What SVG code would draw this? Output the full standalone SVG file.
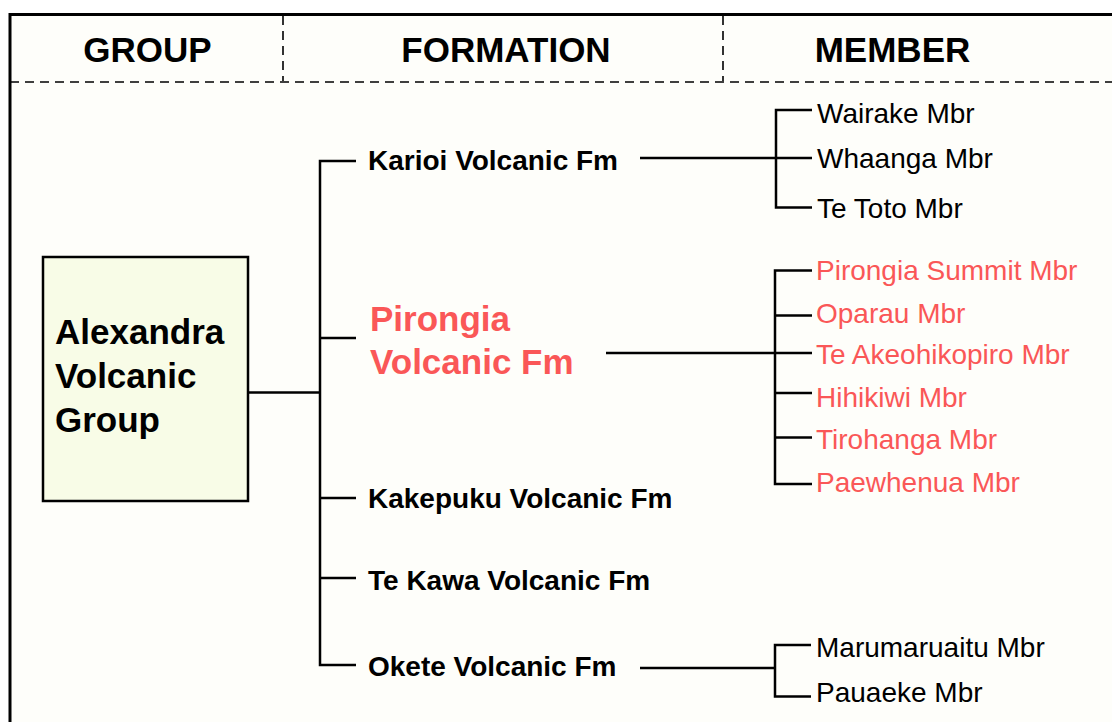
<svg xmlns="http://www.w3.org/2000/svg" width="1112" height="722" viewBox="0 0 1112 722">
<style>
.hdr{font-family:"Liberation Sans",Arial,sans-serif;font-weight:bold;font-size:35px;fill:#000;text-anchor:middle}
.big{font-family:"Liberation Sans",Arial,sans-serif;font-weight:bold;font-size:35px}
.fm{font-family:"Liberation Sans",Arial,sans-serif;font-weight:bold;font-size:28px;fill:#000}
.mbr{font-family:"Liberation Sans",Arial,sans-serif;font-size:28px;fill:#000}
.red{fill:#FA5757}
.ln{stroke:#000;stroke-width:2.5;fill:none}
.dash{stroke:#000;stroke-width:1.6;stroke-dasharray:9 6;fill:none}
</style>
<rect x="0" y="0" width="1112" height="722" fill="#FFFFFF"/>
<rect id="frame" x="10" y="14.5" width="1200" height="800" fill="#FEFEFA" stroke="#000" stroke-width="3"/>
<g id="header">
<line class="dash" x1="10" y1="82" x2="1112" y2="82"/>
<line class="dash" x1="283" y1="16" x2="283" y2="81"/>
<line class="dash" x1="723" y1="16" x2="723" y2="81"/>
<text class="hdr" x="147.5" y="61.5">GROUP</text>
<text class="hdr" x="506" y="61.5">FORMATION</text>
<text class="hdr" x="892.5" y="61.5">MEMBER</text>
</g>
<g id="connectors">
<line class="ln" x1="248" y1="392.5" x2="320" y2="392.5"/>
<polyline class="ln" points="356,161 320,161 320,665 356,665"/>
<line class="ln" x1="320" y1="338" x2="356" y2="338"/>
<line class="ln" x1="320" y1="498" x2="356" y2="498"/>
<line class="ln" x1="320" y1="578" x2="356" y2="578"/>
<line class="ln" x1="640" y1="158" x2="776" y2="158"/>
<polyline class="ln" points="812,110 776,110 776,207.5 812,207.5"/>
<line class="ln" x1="776" y1="158" x2="812" y2="158"/>
<line class="ln" x1="606" y1="353" x2="775" y2="353"/>
<polyline class="ln" points="812,270.5 775,270.5 775,484 812,484"/>
<line class="ln" x1="775" y1="315.5" x2="812" y2="315.5"/>
<line class="ln" x1="775" y1="353" x2="812" y2="353"/>
<line class="ln" x1="775" y1="393" x2="812" y2="393"/>
<line class="ln" x1="775" y1="437.5" x2="812" y2="437.5"/>
<line class="ln" x1="640" y1="668" x2="775" y2="668"/>
<polyline class="ln" points="811,645 775,645 775,696.5 811,696.5"/>
</g>
<g id="group-alexandra">
<rect x="43" y="257" width="205" height="244" fill="#F8FCE7" stroke="#000" stroke-width="2.5"/>
<text class="big" fill="#000" x="55" y="343.5">Alexandra</text>
<text class="big" fill="#000" x="55" y="387.5">Volcanic</text>
<text class="big" fill="#000" x="55" y="431.5">Group</text>
</g>
<g id="fm-karioi"><text class="fm" x="368" y="169.5">Karioi Volcanic Fm</text></g>
<g id="fm-pirongia">
<text class="big red" x="370" y="331">Pirongia</text>
<text class="big red" x="370" y="374">Volcanic Fm</text>
</g>
<g id="fm-kakepuku"><text class="fm" x="368" y="508">Kakepuku Volcanic Fm</text></g>
<g id="fm-tekawa"><text class="fm" x="368" y="590">Te Kawa Volcanic Fm</text></g>
<g id="fm-okete"><text class="fm" x="368" y="676">Okete Volcanic Fm</text></g>
<g id="mbr-wairake"><text class="mbr" x="817" y="123">Wairake Mbr</text></g>
<g id="mbr-whaanga"><text class="mbr" x="817" y="167.5">Whaanga Mbr</text></g>
<g id="mbr-tetoto"><text class="mbr" x="817" y="217.5">Te Toto Mbr</text></g>
<g id="mbr-pirongia-summit"><text class="mbr red" x="816" y="280">Pirongia Summit Mbr</text></g>
<g id="mbr-oparau"><text class="mbr red" x="816" y="323">Oparau Mbr</text></g>
<g id="mbr-teakeohikopiro"><text class="mbr red" x="816" y="364">Te Akeohikopiro Mbr</text></g>
<g id="mbr-hihikiwi"><text class="mbr red" x="816" y="407">Hihikiwi Mbr</text></g>
<g id="mbr-tirohanga"><text class="mbr red" x="816" y="449">Tirohanga Mbr</text></g>
<g id="mbr-paewhenua"><text class="mbr red" x="816" y="491.5">Paewhenua Mbr</text></g>
<g id="mbr-marumaruaitu"><text class="mbr" x="816" y="656.5">Marumaruaitu Mbr</text></g>
<g id="mbr-pauaeke"><text class="mbr" x="816" y="702">Pauaeke Mbr</text></g>
</svg>
